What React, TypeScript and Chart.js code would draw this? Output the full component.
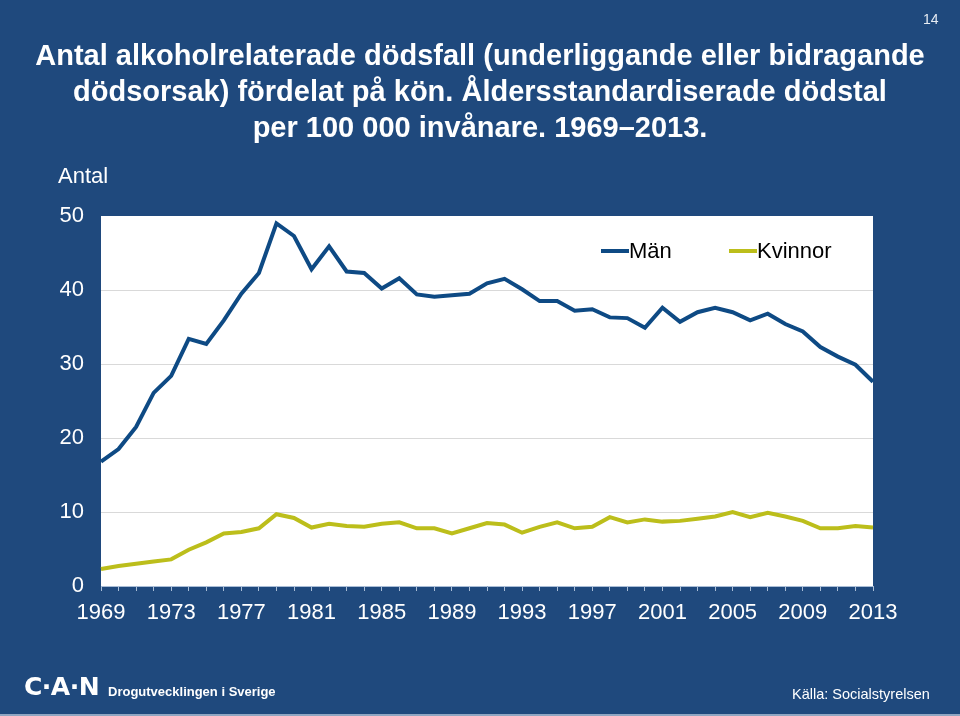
import React, { useEffect, useRef } from "react";
import { Chart, registerables } from "chart.js";

Chart.register(...registerables);

const years: string[] = [];
for (let y = 1969; y <= 2013; y++) years.push(String(y));

const menValues = [
  16.8, 18.5, 21.5, 26.1, 28.4, 33.4, 32.7, 35.9, 39.5, 42.3,
  49.0, 47.3, 42.8, 45.9, 42.5, 42.3, 40.2, 41.6, 39.4, 39.1,
  39.3, 39.5, 40.9, 41.5, 40.1, 38.5, 38.5, 37.2, 37.4, 36.3,
  36.2, 34.9, 37.6, 35.7, 37.0, 37.6, 37.0, 35.9, 36.8, 35.4,
  34.4, 32.3, 31.0, 29.9, 27.6,
];

const womenValues = [
  2.3, 2.7, 3.0, 3.3, 3.6, 4.9, 5.9, 7.1, 7.3, 7.8,
  9.7, 9.2, 7.9, 8.4, 8.1, 8.0, 8.4, 8.6, 7.8, 7.8,
  7.1, 7.8, 8.5, 8.3, 7.2, 8.0, 8.6, 7.8, 8.0, 9.3,
  8.6, 9.0, 8.7, 8.8, 9.1, 9.4, 10.0, 9.3, 9.9, 9.4,
  8.8, 7.8, 7.8, 8.1, 7.9,
];

const yTicks = [0, 10, 20, 30, 40, 50];

const BG = "#1F497D";
const MEN_COLOR = "#0E4A84";
const WOMEN_COLOR = "#BCBE1B";
const AXIS_LIGHT = "#A9BDD6";
const FONT = "Arial, 'Liberation Sans', sans-serif";

const plotBgPlugin = {
  id: "plotBg",
  beforeDraw(chart: any) {
    const { ctx, chartArea } = chart;
    ctx.save();
    ctx.fillStyle = "#FFFFFF";
    ctx.fillRect(chartArea.left, chartArea.top, chartArea.right - chartArea.left, chartArea.bottom - chartArea.top);
    ctx.restore();
  },
};

const legendPlugin = {
  id: "insideLegend",
  afterDraw(chart: any) {
    const { ctx } = chart;
    const starts = [601, 729];
    const y = 251;
    ctx.save();
    chart.data.datasets.forEach((ds: any, i: number) => {
      const x = starts[i];
      ctx.strokeStyle = ds.borderColor;
      ctx.lineWidth = 4;
      ctx.beginPath();
      ctx.moveTo(x, y);
      ctx.lineTo(x + 28, y);
      ctx.stroke();
      ctx.fillStyle = "#000000";
      ctx.font = `22px ${FONT}`;
      ctx.textBaseline = "middle";
      ctx.textAlign = "left";
      ctx.fillText(ds.label, x + 28, y + 1);
    });
    ctx.restore();
  },
};

function LineChart() {
  const ref = useRef<HTMLCanvasElement | null>(null);
  useEffect(() => {
    if (!ref.current) return;
    const chart = new Chart(ref.current, {
      type: "line",
      data: {
        labels: years,
        datasets: [
          {
            label: "Män",
            data: menValues,
            borderColor: MEN_COLOR,
            backgroundColor: MEN_COLOR,
            borderWidth: 4,
            pointRadius: 0,
            tension: 0,
          },
          {
            label: "Kvinnor",
            data: womenValues,
            borderColor: WOMEN_COLOR,
            backgroundColor: WOMEN_COLOR,
            borderWidth: 4,
            pointRadius: 0,
            tension: 0,
          },
        ],
      },
      options: {
        animation: false,
        responsive: false,
        maintainAspectRatio: false,
        devicePixelRatio: 1,
        layout: { padding: { left: 0, right: 87, top: 216, bottom: 0 } },
        plugins: {
          legend: { display: false },
          tooltip: { enabled: false },
          title: { display: false },
        },
        scales: {
          x: {
            offset: false,
            afterFit(scale: any) {
              scale.height = 130;
            },
            border: { display: true, color: AXIS_LIGHT, width: 1 },
            grid: {
              drawOnChartArea: false,
              drawTicks: true,
              tickLength: 5,
              color: AXIS_LIGHT,
              lineWidth: 1,
            },
            ticks: {
              autoSkip: false,
              maxRotation: 0,
              minRotation: 0,
              padding: 9,
              color: "#FFFFFF",
              font: { family: FONT, size: 22 },
              callback(_v: any, i: number) {
                return i % 4 === 0 ? years[i] : "";
              },
            },
          },
          y: {
            min: 0,
            max: 50,
            afterFit(scale: any) {
              scale.width = 101;
            },
            afterBuildTicks(scale: any) {
              scale.ticks = yTicks.map((v) => ({ value: v }));
            },
            border: { display: false },
            grid: {
              drawTicks: false,
              color: (c: any) => (c.tick && (c.tick.value === 0 || c.tick.value === 50) ? "rgba(0,0,0,0)" : "#D9D9D9"),
              lineWidth: 1,
            },
            ticks: {
              padding: 17,
              color: "#FFFFFF",
              font: { family: FONT, size: 22 },
            },
          },
        },
      },
      plugins: [plotBgPlugin, legendPlugin],
    });
    return () => chart.destroy();
  }, []);
  return <canvas ref={ref} width={960} height={716} style={{ position: "absolute", left: 0, top: 0, width: 960, height: 716 }} />;
}

export default function App() {
  useEffect(() => {
    document.body.style.margin = "0";
  }, []);
  const titleLine: React.CSSProperties = {
    position: "absolute",
    left: 0,
    width: 960,
    textAlign: "center",
    whiteSpace: "nowrap",
    color: "#FFFFFF",
    fontFamily: FONT,
    fontWeight: "bold",
    fontSize: 29,
    lineHeight: "30px",
  };
  return (
    <div style={{ position: "fixed", left: 0, top: 0, width: 960, height: 716, background: BG, overflow: "hidden" }}>
      <LineChart />
      <div style={{ ...titleLine, top: 40 }}>Antal alkoholrelaterade dödsfall (underliggande eller bidragande</div>
      <div style={{ ...titleLine, top: 76 }}>dödsorsak) fördelat på kön. Åldersstandardiserade dödstal</div>
      <div style={{ ...titleLine, top: 112 }}>per 100 000 invånare. 1969–2013.</div>
      <div style={{ position: "absolute", left: 923, top: 11, color: "#E6ECF3", fontFamily: FONT, fontSize: 14 }}>14</div>
      <div style={{ position: "absolute", left: 58, top: 163, color: "#FFFFFF", fontFamily: FONT, fontSize: 22 }}>Antal</div>
      <div style={{ position: "absolute", left: 24, top: 672, color: "#FFFFFF", fontFamily: "'DejaVu Sans', sans-serif", fontWeight: "bold", fontSize: 25, letterSpacing: -0.5 }}>C·A·N</div>
      <div style={{ position: "absolute", left: 108, top: 684, color: "#FFFFFF", fontFamily: FONT, fontWeight: "bold", fontSize: 13 }}>Drogutvecklingen i Sverige</div>
      <div style={{ position: "absolute", left: 792, top: 686, color: "#FFFFFF", fontFamily: FONT, fontSize: 14.5 }}>Källa: Socialstyrelsen</div>
      <div style={{ position: "absolute", left: 0, top: 714, width: 960, height: 2, background: "#8FA6C2" }} />
    </div>
  );
}
